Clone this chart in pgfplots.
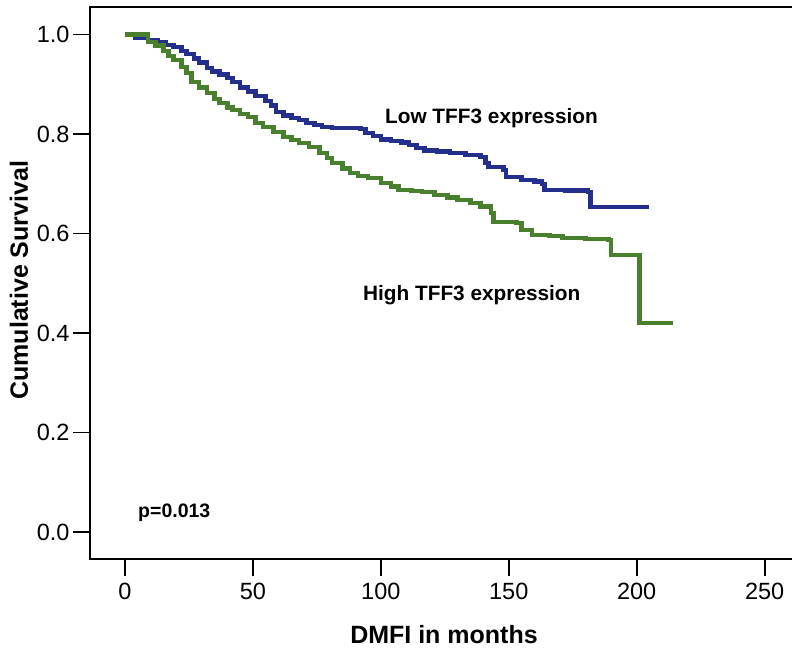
\documentclass[border=0pt]{standalone}
\usepackage{fontspec}
\setmainfont{Liberation Sans}
\usepackage{pgfplots}
\pgfplotsset{compat=1.18}

\definecolor{lowblue}{RGB}{36,46,140}
\definecolor{highgreen}{RGB}{72,128,46}

\begin{document}
\begin{tikzpicture}
\begin{axis}[
    at={(90pt,90pt)}, anchor=south west,
    scale only axis, width=713pt, height=552pt,
    xmin=-13.67, xmax=265, ymin=-0.0543, ymax=1.0553,
    xtick={0,50,100,150,200,250},
    ytick={0,0.2,0.4,0.6,0.8,1.0},
    xtick pos=left, ytick pos=left,
    tick align=outside, major tick length=17pt,
    every tick/.style={black, line width=1.8pt},
    axis line style={line width=1.8pt},
    yticklabel style={/pgf/number format/fixed, /pgf/number format/precision=1, /pgf/number format/zerofill},
    /pgf/number format/assume math mode=true,
    tick label style={font=\fontsize{23.5}{26}\selectfont},
    xticklabel style={yshift=-4pt},
    every axis x label/.style={at={(axis description cs:0.4965,-0.1377)}, anchor=center,
        font=\fontsize{25}{28}\selectfont\bfseries},
    every axis y label/.style={at={(axis description cs:-0.0996,0.505)}, rotate=90, anchor=center,
        font=\fontsize{25}{28}\selectfont\bfseries},
    xlabel={DMFI in months},
    ylabel={Cumulative Survival},
    clip=false,
]
% Low TFF3 expression
\addplot[const plot, lowblue, line width=4.5pt] coordinates {
(0,1.000) (4,0.994) (9,0.989) (13,0.985) (16,0.979) (19,0.975) (22,0.967)
(24,0.961) (27,0.952) (29,0.944) (32,0.933) (34,0.926) (37,0.920) (40,0.913)
(42,0.905) (45,0.893) (48,0.885) (51,0.876) (55,0.866) (57,0.857) (59,0.844)
(62,0.837) (65,0.832) (68,0.828) (71,0.822) (74,0.818) (77,0.814) (81,0.812)
(88,0.812) (92,0.810) (94,0.802) (97,0.796) (100,0.789) (104,0.786) (108,0.783)
(111,0.778) (114,0.772) (117,0.767) (122,0.765) (127,0.762) (133,0.758)
(139,0.754) (141,0.742) (142,0.734) (148,0.728) (149,0.714) (155,0.708)
(160,0.705) (163,0.700) (164,0.687) (172,0.686) (181,0.683) (182,0.653) (205,0.653)
};
% High TFF3 expression
\addplot[const plot, highgreen, line width=4.5pt] coordinates {
(0,1.000) (7,1.000) (9,0.985) (12,0.978) (15,0.967) (17,0.957) (19,0.949)
(22,0.935) (24,0.923) (26,0.905) (29,0.893) (32,0.882) (35,0.870) (37,0.862)
(40,0.853) (42,0.848) (45,0.840) (48,0.834) (51,0.822) (54,0.814) (58,0.804)
(62,0.794) (65,0.788) (68,0.782) (72,0.774) (76,0.762) (79,0.752) (81,0.742)
(85,0.731) (88,0.722) (91,0.716) (95,0.712) (100,0.702) (104,0.694) (107,0.687)
(112,0.685) (116,0.683) (121,0.677) (126,0.672) (130,0.667) (135,0.661)
(139,0.654) (143,0.641) (144,0.623) (153,0.621) (155,0.607) (159,0.597)
(166,0.595) (171,0.591) (180,0.589) (189,0.587) (190,0.557) (200,0.557)
(201,0.420) (214,0.420)
};
\node[anchor=west, inner sep=0pt, font=\fontsize{20.8}{24}\selectfont\bfseries] at (axis cs:101.6,0.832) {Low TFF3 expression};
\node[anchor=west, inner sep=0pt, font=\fontsize{20.8}{24}\selectfont\bfseries] at (axis cs:93,0.476) {High TFF3 expression};
\node[anchor=west, inner sep=0pt, font=\fontsize{19.5}{22}\selectfont\bfseries] at (axis cs:5.1,0.038) {p=0.013};
\end{axis}
\pgfresetboundingbox
\path[use as bounding box] (0,0) rectangle (792pt,649pt);
\end{tikzpicture}
\end{document}
